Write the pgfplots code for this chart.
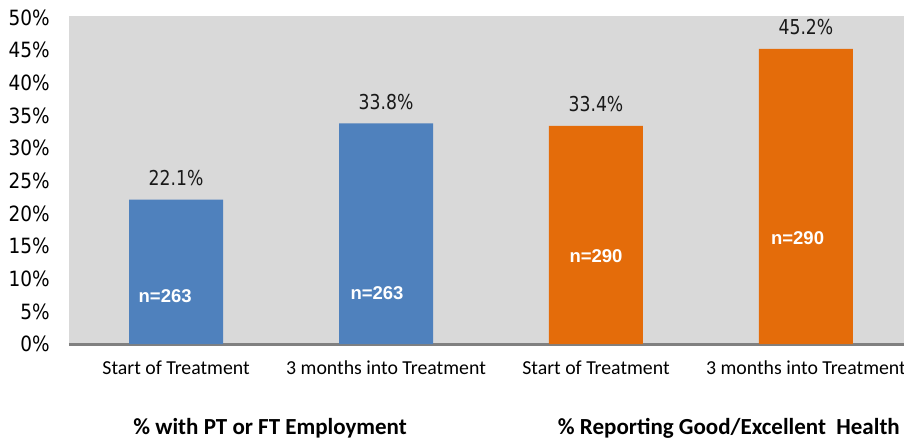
\documentclass[border=0pt]{standalone}
\usepackage{fontspec}
\setmainfont{Carlito}
\newfontfamily\tickfont[FakeStretch=0.88]{DejaVu Sans}
\newfontfamily\labfont[FakeStretch=0.84]{DejaVu Sans}
\newfontfamily\nfont{Liberation Sans}
\usepackage{pgfplots}
\pgfplotsset{compat=1.18}
\usetikzlibrary{calc}

\definecolor{bgray}{RGB}{217,217,217}
\definecolor{bblue}{RGB}{79,129,189}
\definecolor{borange}{RGB}{228,108,10}
\definecolor{axgray}{RGB}{128,128,128}

\begin{document}
\begin{tikzpicture}
\begin{axis}[
    name=ax,
    scale only axis,
    width=835pt, height=328pt,
    ybar, bar width=94pt,
    xmin=-0.51, xmax=3.467,
    ymin=0, ymax=50.25,
    axis background/.style={fill=bgray},
    axis x line*=bottom,
    axis y line*=left,
    x axis line style={draw=axgray, line width=3pt, -},
    y axis line style={draw=none},
    major tick length=0pt,
    xtick={0,1,2,3},
    xticklabels={Start of Treatment, 3 months into Treatment, Start of Treatment, 3 months into Treatment},
    xticklabel style={font=\fontsize{19.8}{21}\selectfont, anchor=base, inner sep=0pt, yshift=-30pt},
    ytick={0,5,...,50},
    yticklabel={\pgfmathprintnumber{\tick}\%},
    yticklabel style={font=\fontsize{21}{23}\tickfont, anchor=east, inner sep=0pt, xshift=-19pt},
    /pgf/number format/assume math mode=true,
    nodes near coords={\pgfmathprintnumber[fixed,fixed zerofill,precision=1]{\pgfplotspointmeta}\%},
    every node near coord/.append style={font=\fontsize{20.5}{23}\labfont, text=black!90, anchor=base, inner sep=0pt, yshift=14pt},
    clip=false,
]
\addplot[fill=bblue, draw=none, bar shift=0pt] coordinates {(0,22.1) (1,33.8)};
\addplot[fill=borange, draw=none, bar shift=0pt] coordinates {(2,33.4) (3,45.2)};

\node[text=white, font=\fontsize{18.5}{20}\nfont\bfseries] at (axis cs:-0.052,7.3) {n=263};
\node[text=white, font=\fontsize{18.5}{20}\nfont\bfseries] at (axis cs:0.957,7.8) {n=263};
\node[text=white, font=\fontsize{18.5}{20}\nfont\bfseries] at (axis cs:2,13.5) {n=290};
\node[text=white, font=\fontsize{18.5}{20}\nfont\bfseries] at (axis cs:2.96,16.2) {n=290};

\node[anchor=base, font=\fontsize{23}{25}\selectfont\bfseries] at (axis cs:0.448,-13.87) {\% with PT or FT Employment};
\node[anchor=base, font=\fontsize{23}{25}\selectfont\bfseries] at (axis cs:2.633,-13.87) {\% Reporting Good/Excellent\ \ Health};
\end{axis}
\pgfresetboundingbox
\path ($(ax.south west)+(-69pt,-96pt)$) rectangle ($(ax.north east)+(0pt,16pt)$);
\end{tikzpicture}
\end{document}
